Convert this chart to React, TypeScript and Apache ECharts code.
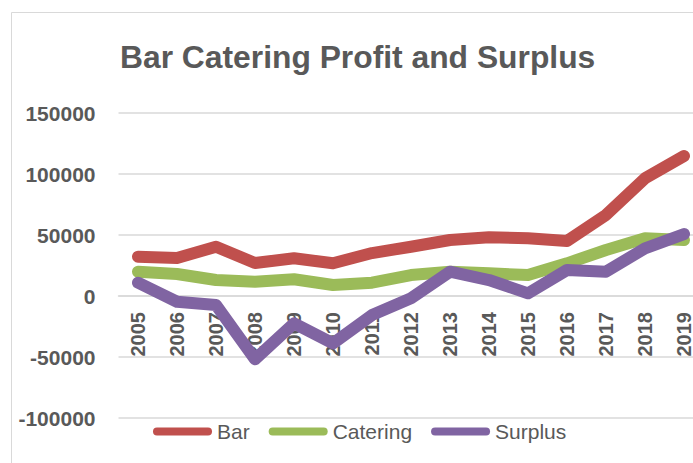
import React, { useEffect, useRef } from "react";
import * as echarts from "echarts";

const years = ["2005","2006","2007","2008","2009","2010","2011","2012","2013","2014","2015","2016","2017","2018","2019"];
const barValues = [32200, 31100, 40400, 27000, 31000, 26800, 35200, 40400, 45900, 48100, 47300, 45100, 66400, 96500, 114800];
const cateringValues = [19900, 18000, 13100, 11700, 13700, 9000, 10900, 17200, 19900, 18600, 17200, 26800, 37700, 47300, 45900];
const surplusValues = [10900, -4700, -7400, -51900, -22400, -38800, -15600, -1900, 19900, 13100, 2200, 21300, 19900, 39100, 50800];

const TEXT = "#595959";
const FONT = "'Liberation Sans', Arial, sans-serif";

export default function App() {
  const ref = useRef<HTMLDivElement>(null);
  useEffect(() => {
    if (!ref.current) return;
    const chart = echarts.init(ref.current, null, { renderer: "svg" });
    const lineSeries = (name: string, data: number[], color: string) => ({
      name,
      type: "line",
      data,
      color,
      showSymbol: false,
      symbol: "none",
      lineStyle: { width: 12, color, cap: "round", join: "round" },
    });
    chart.setOption({
      animation: false,
      backgroundColor: "#ffffff",
      textStyle: { fontFamily: FONT },
      title: {
        text: "Bar Catering Profit and Surplus",
        left: 120,
        top: 41,
        padding: 0,
        textStyle: { color: TEXT, fontSize: 31.8, fontWeight: "bold", fontFamily: FONT },
      },
      graphic: [
        {
          type: "rect",
          shape: { x: 11.5, y: 12.5, width: 720, height: 520 },
          style: { fill: "none", stroke: "#d9d9d9", lineWidth: 1 },
          silent: true,
        },
      ],
      legend: {
        left: 153,
        top: 421,
        padding: 0,
        itemWidth: 59,
        itemHeight: 8,
        itemGap: 19,
        icon: "path://M4,0 L55,0 A4,4 0 0 1 55,8 L4,8 A4,4 0 0 1 4,0 Z",
        textStyle: { color: TEXT, fontSize: 21, fontFamily: FONT },
        data: ["Bar", "Catering", "Surplus"],
      },
      grid: {
        left: 118.5,
        right: -10.5,
        top: 113,
        bottom: 45,
        containLabel: false,
        outerBoundsMode: "none",
      },
      xAxis: {
        type: "category",
        data: years,
        boundaryGap: true,
        position: "bottom",
        offset: -122,
        axisLine: { onZero: false, lineStyle: { color: "#d9d9d9", width: 1.5 } },
        axisTick: { show: false },
        axisLabel: {
          rotate: 90,
          margin: 16,
          color: TEXT,
          fontSize: 20,
          lineHeight: 16,
          fontWeight: "bold",
          fontFamily: FONT,
        },
        splitLine: { show: false },
      },
      yAxis: {
        type: "value",
        min: -100000,
        max: 150000,
        interval: 50000,
        axisLine: { show: false },
        axisTick: { show: false },
        axisLabel: {
          margin: 23,
          color: TEXT,
          fontSize: 21,
          fontWeight: "bold",
          fontFamily: FONT,
          formatter: (v: number) => String(v),
        },
        splitLine: { lineStyle: { color: "#d9d9d9", width: 1.5 } },
      },
      series: [
        lineSeries("Bar", barValues, "#c0504d"),
        lineSeries("Catering", cateringValues, "#9bbb59"),
        lineSeries("Surplus", surplusValues, "#8064a2"),
      ],
    });
    return () => chart.dispose();
  }, []);
  return (
    <div
      ref={ref}
      style={{ position: "fixed", left: 0, top: 0, width: 693, height: 463, background: "#fff" }}
    />
  );
}
